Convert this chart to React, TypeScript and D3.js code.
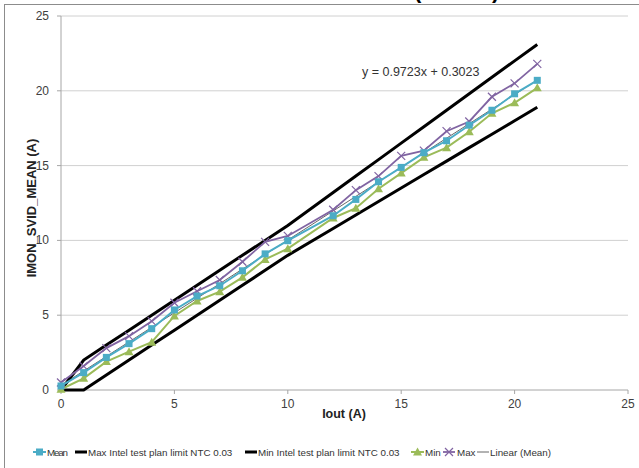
import React from "react";
import * as d3 from "d3";

const xValues = [0, 1, 2, 3, 4, 5, 6, 7, 8, 9, 10, 12, 13, 14, 15, 16, 17, 18, 19, 20, 21];
const meanValues = [0.27, 1.16, 2.18, 3.1, 4.1, 5.35, 6.28, 6.97, 7.97, 9.1, 9.98, 11.65, 12.74, 13.92, 14.88, 15.86, 16.66, 17.7, 18.7, 19.8, 20.7];
const minValues = [0.05, 0.78, 1.9, 2.56, 3.2, 4.95, 5.95, 6.57, 7.53, 8.73, 9.45, 11.5, 12.15, 13.45, 14.5, 15.55, 16.2, 17.26, 18.5, 19.2, 20.2];
const maxValues = [0.5, 1.6, 2.8, 3.6, 4.6, 5.83, 6.6, 7.35, 8.57, 9.9, 10.3, 12.05, 13.36, 14.3, 15.65, 16.0, 17.3, 17.95, 19.6, 20.5, 21.8];
const maxLimitValues = [0, 2, 3, 4, 5, 6, 7, 8, 9, 10, 11, 13.2, 14.3, 15.4, 16.5, 17.6, 18.7, 19.8, 20.9, 22, 23.1];
const minLimitValues = [0, 0, 1, 2, 3, 4, 5, 6, 7, 8, 9, 10.8, 11.7, 12.6, 13.5, 14.4, 15.3, 16.2, 17.1, 18, 18.9];
const trendSlope = 0.9723;
const trendIntercept = 0.3023;
const xTicks = [0, 5, 10, 15, 20, 25];
const yTicks = [0, 5, 10, 15, 20, 25];
const legendLabels = ["Mean", "Max Intel test plan limit NTC 0.03", "Min Intel test plan limit NTC 0.03", "Min", "Max", "Linear (Mean)"];

const C_MEAN = "#4bacc6";
const C_MIN = "#9bbb59";
const C_MAX = "#8064a2";
const FONT = "'Liberation Sans', Arial, sans-serif";

export default function App() {
  const x = d3.scaleLinear().domain([0, 25]).range([61, 628]);
  const y = d3.scaleLinear().domain([0, 25]).range([390, 16]);

  const pts = (vals: number[]) => xValues.map((xv, i) => [xv, vals[i]] as [number, number]);
  const line = d3.line<[number, number]>().x((d) => x(d[0])).y((d) => y(d[1]));

  const square = (cx: number, cy: number, k: string, c: string) => (
    <rect key={k} x={cx - 3.5} y={cy - 3.5} width={7} height={7} fill={c} />
  );
  const tri = (cx: number, cy: number, k: string, c: string) => (
    <path key={k} d={`M${cx},${cy - 4.5}L${cx + 4.5},${cy + 3.5}L${cx - 4.5},${cy + 3.5}Z`} fill={c} />
  );
  const cross = (cx: number, cy: number, k: string, c: string) => (
    <path key={k} d={`M${cx - 4},${cy - 4}L${cx + 4},${cy + 4}M${cx - 4},${cy + 4}L${cx + 4},${cy - 4}`} stroke={c} strokeWidth={1.2} fill="none" />
  );

  const legendItems = [
    { x: 33, w: 13, tx: 47, kind: "mean" },
    { x: 75, w: 12, tx: 88, kind: "limit" },
    { x: 245, w: 12, tx: 258, kind: "limit" },
    { x: 411, w: 13, tx: 425, kind: "min" },
    { x: 443, w: 12, tx: 457, kind: "max" },
    { x: 477, w: 12, tx: 490, kind: "trend" },
  ];
  const ly = 452;

  return (
    <svg width={639} height={468} style={{ position: "absolute", left: 0, top: 0, background: "#fff" }} fontFamily={FONT}>
      <rect x={0} y={0} width={639} height={468} fill="#fff" />
      <rect x={4.5} y={4.5} width={700} height={600} fill="none" stroke="#8c8c8c" strokeWidth={1} />
      {/* title glyphs, cut off at the top edge as in the reference */}
      <text x={414} y={-2} fontSize={22} fontWeight="bold" fill="#000">(</text>
      <text x={492} y={-2} fontSize={22} fontWeight="bold" fill="#000">)</text>

      {yTicks.filter((t) => t > 0).map((t) => (
        <line key={"g" + t} x1={x(0)} x2={x(25)} y1={y(t)} y2={y(t)} stroke="#d0d0d0" strokeWidth={1} />
      ))}
      <line x1={x(0)} x2={x(0)} y1={y(0)} y2={y(25)} stroke="#a6a6a6" />
      <line x1={x(0)} x2={x(25)} y1={y(0)} y2={y(0)} stroke="#a6a6a6" />
      {yTicks.map((t) => (
        <g key={"yt" + t}>
          <line x1={x(0) - 4} x2={x(0)} y1={y(t)} y2={y(t)} stroke="#a6a6a6" />
          <text x={49} y={y(t) + 4} fontSize={12} textAnchor="end" fill="#404040">{t}</text>
        </g>
      ))}
      {xTicks.map((t) => (
        <g key={"xt" + t}>
          <line x1={x(t)} x2={x(t)} y1={y(0)} y2={y(0) + 4} stroke="#a6a6a6" />
          <text x={x(t)} y={y(0) + 18} fontSize={12} textAnchor="middle" fill="#404040">{t}</text>
        </g>
      ))}
      <text x={344} y={418} fontSize={12.5} fontWeight="bold" textAnchor="middle" fill="#222">Iout (A)</text>
      <text transform={`translate(36,${208}) rotate(-90)`} fontSize={13} fontWeight="bold" textAnchor="middle" fill="#222">IMON_SVID_MEAN (A)</text>

      <line x1={x(0)} y1={y(trendIntercept)} x2={x(21)} y2={y(trendSlope * 21 + trendIntercept)} stroke="#404040" strokeWidth={0.8} />

      <path d={line(pts(maxLimitValues)) || ""} fill="none" stroke="#000" strokeWidth={3} />
      <path d={line(pts(minLimitValues)) || ""} fill="none" stroke="#000" strokeWidth={3} />

      <path d={line(pts(minValues)) || ""} fill="none" stroke={C_MIN} strokeWidth={2} />
      {pts(minValues).map((p, i) => tri(x(p[0]), y(p[1]), "mn" + i, C_MIN))}
      <path d={line(pts(maxValues)) || ""} fill="none" stroke={C_MAX} strokeWidth={1.8} />
      {pts(maxValues).map((p, i) => cross(x(p[0]), y(p[1]), "mx" + i, C_MAX))}
      <path d={line(pts(meanValues)) || ""} fill="none" stroke={C_MEAN} strokeWidth={2} />
      {pts(meanValues).map((p, i) => square(x(p[0]), y(p[1]), "me" + i, C_MEAN))}

      <text x={362} y={76} fontSize={12.5} fill="#333">y = 0.9723x + 0.3023</text>

      {legendItems.map((it, i) => (
        <g key={"lg" + i}>
          {it.kind === "mean" && (
            <>
              <line x1={it.x} x2={it.x + it.w} y1={ly} y2={ly} stroke={C_MEAN} strokeWidth={2} />
              {square(it.x + it.w / 2, ly, "lsq", C_MEAN)}
            </>
          )}
          {it.kind === "limit" && <line x1={it.x} x2={it.x + it.w} y1={ly} y2={ly} stroke="#000" strokeWidth={3} />}
          {it.kind === "min" && (
            <>
              <line x1={it.x} x2={it.x + it.w} y1={ly} y2={ly} stroke={C_MIN} strokeWidth={2} />
              {tri(it.x + it.w / 2, ly, "ltr", C_MIN)}
            </>
          )}
          {it.kind === "max" && (
            <>
              <line x1={it.x} x2={it.x + it.w} y1={ly} y2={ly} stroke={C_MAX} strokeWidth={1.8} />
              {cross(it.x + it.w / 2, ly, "lcr", C_MAX)}
            </>
          )}
          {it.kind === "trend" && <line x1={it.x} x2={it.x + it.w} y1={ly} y2={ly} stroke="#404040" strokeWidth={0.8} />}
          <text x={it.tx} y={ly + 3.5} fontSize={9.8} fill="#333" textLength={i === 0 ? 21 : undefined}>{legendLabels[i]}</text>
        </g>
      ))}
    </svg>
  );
}
